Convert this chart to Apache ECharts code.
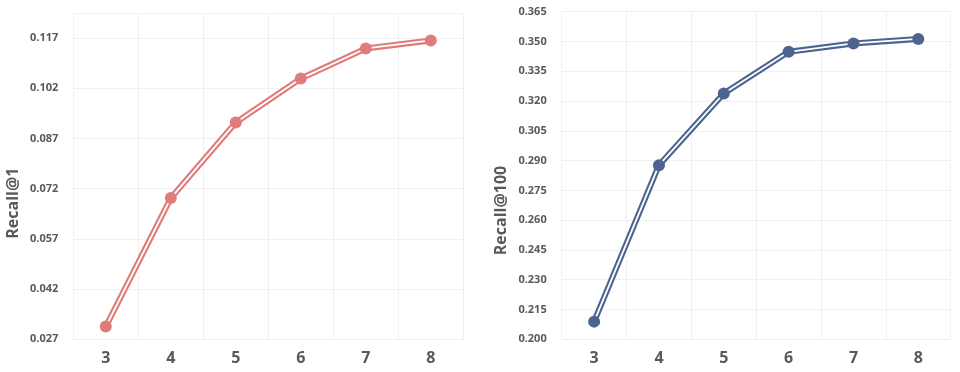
<!DOCTYPE html>
<html>
<head>
<meta charset="utf-8">
<script src="https://cdn.jsdelivr.net/npm/echarts@6/dist/echarts.min.js"></script>
<style>
html,body{margin:0;padding:0;background:#fff;}
#c{width:960px;height:372px;}
</style>
</head>
<body>
<div id="c"></div>
<script>
const categories = ['3', '4', '5', '6', '7', '8'];
const recallAt1 = [0.0308, 0.0692, 0.0918, 0.1049, 0.1139, 0.1163];
const recallAt100 = [0.2089, 0.2877, 0.3238, 0.3448, 0.3490, 0.3513];
const leftTicks = { min: 0.027, max: 0.1245, interval: 0.015 };
const rightTicks = { min: 0.200, max: 0.365, interval: 0.015 };

const RED = '#E07B7C';
const BLUE = '#4B6590';
const TXT = '#595959';
const GRIDC = '#f0f0f0';
const FONT = '"Open Sans", "Liberation Sans", sans-serif';

function xAxis(idx) {
  return {
    type: 'category', gridIndex: idx, data: categories, boundaryGap: true,
    axisLine: { show: false }, axisTick: { show: false },
    axisLabel: { color: TXT, fontSize: 16, fontWeight: 'bold', fontFamily: FONT, margin: 11 },
    splitLine: { show: true, interval: 0, lineStyle: { color: GRIDC, width: 1 } }
  };
}
function yAxis(idx, t, name, hideTop, shiftDown) {
  const nLines = Math.round((t.max - t.min) / t.interval) + 1 + (hideTop ? 1 : 0);
  const colors = [];
  for (let i = 0; i < nLines; i++) colors.push(GRIDC);
  if (hideTop) colors[nLines - 1] = 'rgba(0,0,0,0)';
  return {
    type: 'value', gridIndex: idx, min: t.min, max: t.max, interval: t.interval,
    name: name, nameLocation: 'middle', nameGap: 52,
    nameTextStyle: { color: TXT, fontSize: 16, fontWeight: 'bold', fontFamily: FONT,
      padding: [0, shiftDown * 2, 0, 0] },
    axisLine: { show: false }, axisTick: { show: false },
    axisLabel: {
      color: TXT, fontSize: 11, fontWeight: 'bold', fontFamily: FONT, margin: 15,
      showMaxLabel: !hideTop,
      formatter: v => v.toFixed(3)
    },
    splitLine: { show: true, lineStyle: { color: colors, width: 1 } }
  };
}
function seriesSet(idx, data, color) {
  return [
    { type: 'line', xAxisIndex: idx, yAxisIndex: idx, data: data, showSymbol: false, symbol: 'none',
      lineStyle: { color: color, width: 6 }, z: 2, animation: false },
    { type: 'line', xAxisIndex: idx, yAxisIndex: idx, data: data, showSymbol: false, symbol: 'none',
      lineStyle: { color: '#ffffff', width: 1.8 }, z: 3, animation: false },
    { type: 'line', xAxisIndex: idx, yAxisIndex: idx, data: data, symbol: 'circle', symbolSize: 12,
      itemStyle: { color: color }, lineStyle: { width: 0, opacity: 0 }, z: 4, animation: false }
  ];
}

const chart = echarts.init(document.getElementById('c'), null, { renderer: 'canvas' });
chart.setOption({
  backgroundColor: '#ffffff',
  animation: false,
  grid: [
    { left: 73.3, right: 496.7, top: 13, bottom: 32.7, containLabel: false },
    { left: 561.7, right: 9.3, top: 11.7, bottom: 32.7, containLabel: false }
  ],
  xAxis: [xAxis(0), xAxis(1)],
  yAxis: [yAxis(0, leftTicks, 'Recall@1', true, 27), yAxis(1, rightTicks, 'Recall@100', false, 35)],
  series: [...seriesSet(0, recallAt1, RED), ...seriesSet(1, recallAt100, BLUE)]
});
</script>
</body>
</html>
